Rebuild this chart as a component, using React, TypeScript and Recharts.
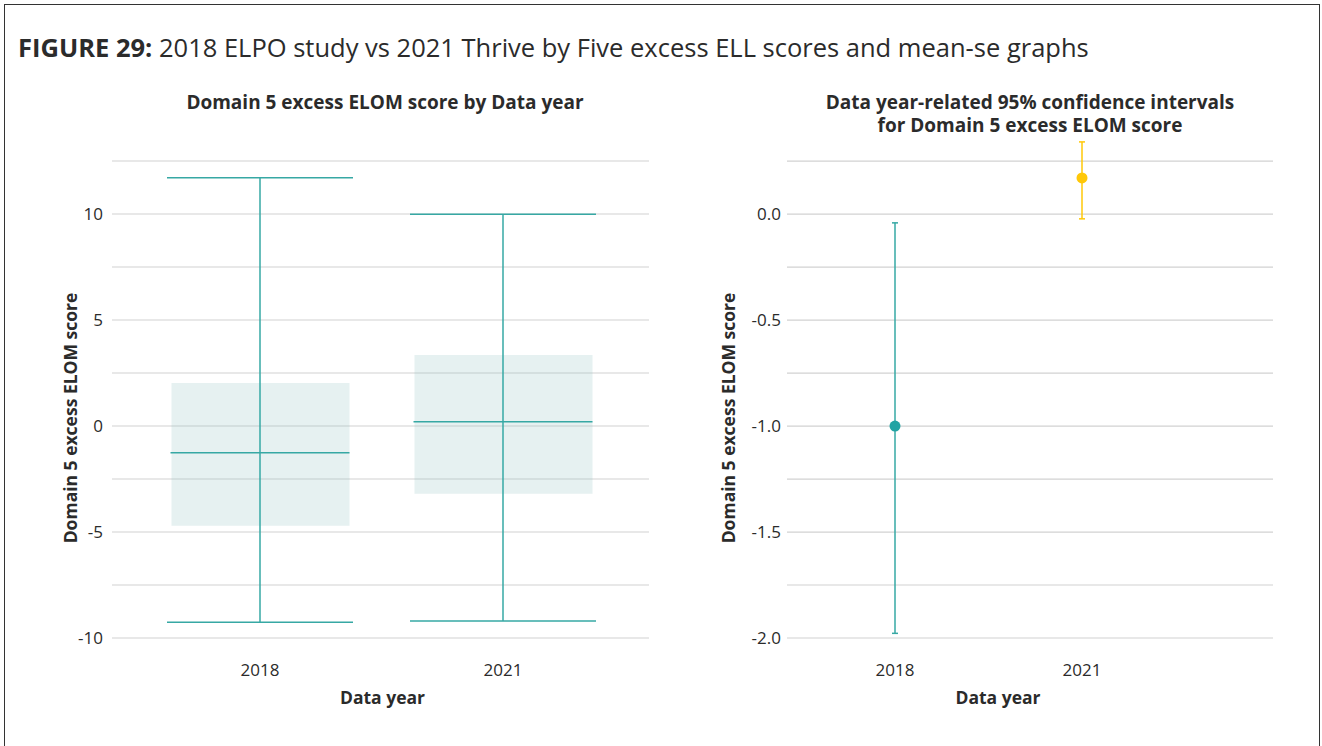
import React from "react";
import {
    ComposedChart,
    Bar,
    Scatter,
    ErrorBar,
    XAxis,
    YAxis,
    CartesianGrid,
} from "recharts";

// box plot (left)
const years = ["2018", "2021"];
const boxLow = [-4.7, -3.19];
const boxHigh = [2.03, 3.35];
const medians = [-1.26, 0.2];
const whiskerMin = [-9.26, -9.2];
const whiskerMax = [11.71, 9.99];
const boxTicks = [-10, -7.5, -5, -2.5, 0, 2.5, 5, 7.5, 10, 12.5];

// mean + 95% CI (right)
const means = [-1.0, 0.171];
const ciLow = [-1.978, -0.022];
const ciHigh = [-0.041, 0.341];
const ciTicks = [-2, -1.75, -1.5, -1.25, -1, -0.75, -0.5, -0.25, 0, 0.25];

const TEAL = "#36a8a4";
const TEAL_DOT = "#22a3a3";
const YELLOW = "#ffc808";
const GRID = "#d2d2d2";
const TEXT = "#2b2b2b";
const FONT = "'Open Sans', sans-serif";

const boxData = years.map((year, i) => ({
    year,
    box: [boxLow[i], boxHigh[i]],
    median: medians[i],
    whisker: [medians[i] - whiskerMin[i], whiskerMax[i] - medians[i]],
}));

const ciData = years.map((year, i) => ({
    year,
    mean: means[i],
    ci: [means[i] - ciLow[i], ciHigh[i] - means[i]],
}));

const yTitle = (text: string, shiftX: number, shiftY: number) => (props: any) => {
    const vb = props.viewBox || { x: 0, y: 0, width: 0, height: 0 };
    const cx = vb.x + shiftX;
    const cy = vb.y + vb.height / 2 + shiftY;
    return (
        <text
            x={cx}
            y={cy}
            transform={`rotate(-90 ${cx} ${cy})`}
            textAnchor="middle"
            fontSize={17.5}
            fontWeight={700}
            fill={TEXT}
            fontFamily={FONT}
        >
            {text}
        </text>
    );
};

const xTitle = (text: string, shiftX: number, baseline: number) => (props: any) => {
    const vb = props.viewBox || { x: 0, y: 0, width: 0, height: 0 };
    return (
        <text
            x={vb.x + vb.width / 2 + shiftX}
            y={vb.y + baseline}
            textAnchor="middle"
            fontSize={17.5}
            fontWeight={700}
            fill={TEXT}
            fontFamily={FONT}
        >
            {text}
        </text>
    );
};

const tickStyle = { fill: TEXT, fontSize: 17, fontFamily: FONT };

function BoxChart() {
    return (
        <ComposedChart
            width={650}
            height={580}
            data={boxData}
            margin={{ top: 21, right: 21, left: 0, bottom: 0 }}
        >
            <CartesianGrid vertical={false} syncWithTicks stroke={GRID} strokeWidth={1.2} />
            <XAxis
                dataKey="year"
                type="category"
                padding={{ left: 26.5, right: 24.5 }}
                axisLine={false}
                tickLine={false}
                tickMargin={20}
                tick={tickStyle}
                height={82}
                label={{ content: xTitle("Data year", 2, 66) }}
            />
            <YAxis
                type="number"
                domain={[-10, 12.5]}
                ticks={boxTicks}
                interval={0}
                width={92}
                axisLine={false}
                tickLine={false}
                tickMargin={3}
                tick={tickStyle}
                tickFormatter={(v: number) => (v % 5 === 0 ? String(v) : "")}
                label={{ content: yTitle("Domain 5 excess ELOM score", 57, 18.5) }}
            />
            <Bar
                dataKey="box"
                barSize={178}
                fill="#8fc1c1"
                fillOpacity={0.22}
                isAnimationActive={false}
            />
            <Scatter
                dataKey="median"
                isAnimationActive={false}
                shape={(p: any) => (
                    <line
                        x1={p.cx - 89.5}
                        x2={p.cx + 89.5}
                        y1={p.cy}
                        y2={p.cy}
                        stroke={TEAL}
                        strokeWidth={1.5}
                    />
                )}
            >
                <ErrorBar
                    dataKey="whisker"
                    direction="y"
                    width={93}
                    stroke={TEAL}
                    strokeWidth={1.5}
                    isAnimationActive={false}
                />
            </Scatter>
        </ComposedChart>
    );
}

const dot = (color: string) => (p: any) => (
    <circle cx={p.cx} cy={p.cy} r={5.5} fill={color} />
);

function CiChart() {
    return (
        <ComposedChart
            width={600}
            height={580}
            data={ciData}
            margin={{ top: 0, right: 17, left: 0, bottom: 0 }}
        >
            <CartesianGrid vertical={false} syncWithTicks stroke={GRID} strokeWidth={1.2} />
            <XAxis
                dataKey="year"
                type="category"
                allowDuplicatedCategory={false}
                padding={{ left: 108, right: 191 }}
                axisLine={false}
                tickLine={false}
                tickMargin={20}
                tick={tickStyle}
                height={82}
                label={{ content: xTitle("Data year", -32, 66) }}
            />
            <YAxis
                type="number"
                domain={[-2, 0.35]}
                allowDataOverflow
                ticks={ciTicks}
                interval={0}
                width={97}
                axisLine={false}
                tickLine={false}
                tickMargin={0}
                tick={tickStyle}
                tickFormatter={(v: number) =>
                    Math.abs(v * 2 - Math.round(v * 2)) < 1e-9 ? v.toFixed(1) : ""
                }
                label={{ content: yTitle("Domain 5 excess ELOM score", 45, 29) }}
            />
            <Scatter
                data={[ciData[0]]}
                dataKey="mean"
                isAnimationActive={false}
                shape={dot(TEAL_DOT)}
            >
                <ErrorBar
                    dataKey="ci"
                    direction="y"
                    width={3}
                    stroke={TEAL}
                    strokeWidth={1.5}
                    isAnimationActive={false}
                />
            </Scatter>
            <Scatter
                data={[ciData[1]]}
                dataKey="mean"
                isAnimationActive={false}
                shape={dot(YELLOW)}
            >
                <ErrorBar
                    dataKey="ci"
                    direction="y"
                    width={3}
                    stroke={YELLOW}
                    strokeWidth={1.5}
                    isAnimationActive={false}
                />
            </Scatter>
        </ComposedChart>
    );
}

const subTitle: React.CSSProperties = {
    position: "absolute",
    width: 460,
    top: 91,
    textAlign: "center",
    fontSize: 19,
    fontWeight: 700,
    lineHeight: "23px",
    whiteSpace: "nowrap",
};

export default function App() {
    return (
        <div
            style={{
                position: "absolute",
                left: 0,
                top: 0,
                width: 1322,
                height: 746,
                background: "#fff",
                fontFamily: FONT,
                color: TEXT,
                overflow: "hidden",
            }}
        >
            <div
                style={{
                    position: "absolute",
                    left: 4,
                    top: 4,
                    width: 1314,
                    height: 760,
                    borderTop: "1.5px solid #333",
                    borderLeft: "1.5px solid #333",
                    borderRight: "1.5px solid #333",
                }}
            />
            <div
                style={{
                    position: "absolute",
                    left: 18,
                    top: 31,
                    fontSize: 25.5,
                    whiteSpace: "nowrap",
                    lineHeight: "32px",
                }}
            >
                <b>FIGURE 29:</b> 2018 ELPO study vs 2021 Thrive by Five excess ELL scores and mean-se graphs
            </div>
            <div style={{ ...subTitle, left: 155 }}>
                Domain 5 excess ELOM score by Data year
            </div>
            <div style={{ ...subTitle, left: 800 }}>
                Data year-related 95% confidence intervals
                <br />
                for Domain 5 excess ELOM score
            </div>
            <div style={{ position: "absolute", left: 20, top: 140 }}>
                <BoxChart />
            </div>
            <div style={{ position: "absolute", left: 690, top: 140 }}>
                <CiChart />
            </div>
        </div>
    );
}
